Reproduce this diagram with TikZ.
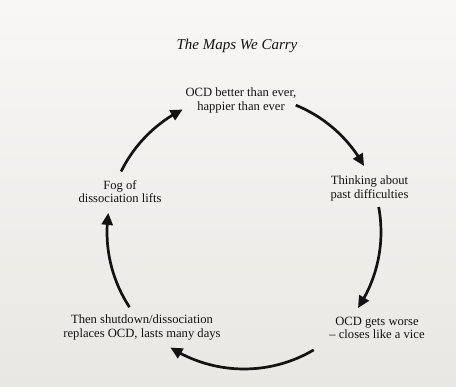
\documentclass[tikz,border=0pt]{standalone}
\usepackage{fontspec}
\setmainfont{Liberation Serif}
\usetikzlibrary{arrows.meta,bending,calc}

\definecolor{paper}{RGB}{248,247,245}
\definecolor{paperlow}{RGB}{233,231,228}
\definecolor{ink}{RGB}{20,18,18}

\tikzset{
  stage/.style={align=center, inner sep=0pt, text=ink,
    font=\fontsize{12.6}{13.2}\selectfont},
  cycarrow/.style={draw=ink, line width=2.7pt,
    -{Triangle[length=12pt,width=11pt,flex]}},
}

\begin{document}
\begin{tikzpicture}[x=1pt,y=1pt]
  % page
  \shade[top color=paper, bottom color=paperlow] (0,0) rectangle (456,387);
  \useasboundingbox (0,0) rectangle (456,387);

  % title
  \node[anchor=base, text=ink, font=\fontsize{15}{17}\selectfont\itshape]
    (title) at (237,337) {The Maps We Carry};

  % the five stages of the cycle
  \node[stage] (better)   at (241,286.5) {OCD better than ever,\\happier than ever};
  \node[stage] (thinking) at (369.5,198.5) {Thinking about\\past difficulties};
  \node[stage] (worse)    at (377,59.5)  {OCD gets worse\\– closes like a vice};
  \node[stage] (shutdown) at (142,59.5)  {Then shutdown/dissociation\\replaces OCD, lasts many days};
  \node[stage] (fog)      at (120,195)   {Fog of\\dissociation lifts};

  % arcs of one circle, running clockwise between the stages
  \coordinate (hub) at (244,155);
  \def\rad{137}
  \coordinate (a1) at ($(hub)+(67.8:\rad)$);
  \coordinate (a2) at ($(hub)+(10.5:\rad)$);
  \coordinate (a3) at ($(hub)+(-59.4:\rad)$);
  \coordinate (a4) at ($(hub)+(-146.7:\rad)$);
  \coordinate (a5) at ($(hub)+(153.8:\rad)$);

  \draw[cycarrow] (a1) arc[start angle=67.8,   end angle=28.8,   radius=\rad];
  \draw[cycarrow] (a2) arc[start angle=10.5,   end angle=-33.7,  radius=\rad];
  \draw[cycarrow] (a3) arc[start angle=-59.4,  end angle=-122.5, radius=\rad];
  \draw[cycarrow] (a4) arc[start angle=-146.7, end angle=-188,   radius=\rad];
  \draw[cycarrow] (a5) arc[start angle=153.8,  end angle=116.6,  radius=\rad];
\end{tikzpicture}
\end{document}
